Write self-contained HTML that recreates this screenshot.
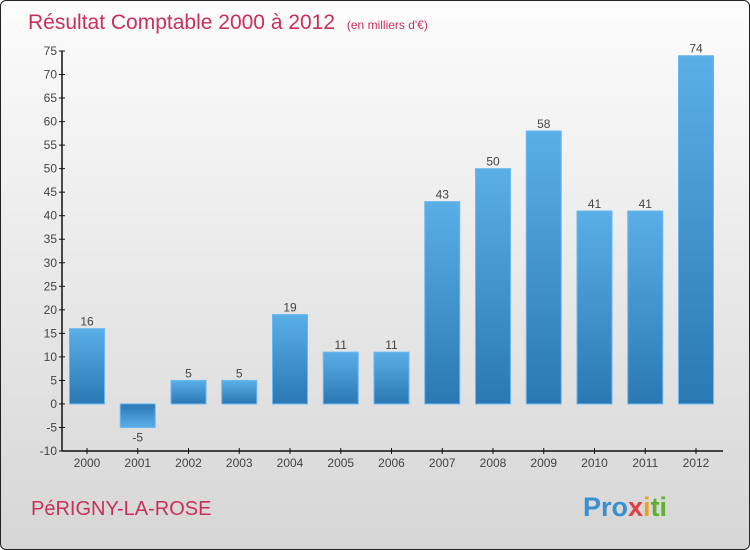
<!DOCTYPE html>
<html><head><meta charset="utf-8"><style>
html,body{margin:0;padding:0}
body{width:750px;height:550px;overflow:hidden;font-family:"Liberation Sans",sans-serif}
#frame{position:absolute;left:0;top:0;width:748px;height:548px;border:1px solid #222;border-radius:6px;background:linear-gradient(#fcfcfc,#d6d6d6);overflow:hidden}
</style></head><body>
<div id="frame">
<svg width="750" height="550">
<defs>
<linearGradient id="gp" x1="0" y1="0" x2="0" y2="1"><stop offset="0" stop-color="#5aafe8"/><stop offset="1" stop-color="#2a78b4"/></linearGradient>
<linearGradient id="gn" x1="0" y1="0" x2="0" y2="1"><stop offset="0" stop-color="#2a78b4"/><stop offset="1" stop-color="#5aafe8"/></linearGradient>
</defs>
<text x="27" y="28" font-size="21" fill="#c8305a">Résultat Comptable 2000 à 2012 <tspan font-size="12" dx="6">(en milliers d'€)</tspan></text>
<g id="axes"></g>
<g id="bars"></g>
<text x="30" y="514" font-size="20" fill="#c8305a">PéRIGNY-LA-ROSE</text>
<text x="582" y="515" font-size="27" font-weight="bold"><tspan fill="#3a8fd0">Pro</tspan><tspan fill="#e04040">x</tspan><tspan fill="#f0a020">i</tspan><tspan fill="#60b030">ti</tspan></text>
</svg>
</div>
<script>
const years=["2000","2001","2002","2003","2004","2005","2006","2007","2008","2009","2010","2011","2012"];
const values=[16,-5,5,5,19,11,11,43,50,58,41,41,74];
const ticks=[-10,-5,0,5,10,15,20,25,30,35,40,45,50,55,60,65,70,75];
const NS="http://www.w3.org/2000/svg";
const x0=61,x1=722,yTop=50,yBot=450,vmin=-10,vmax=75;
const y=v=>yBot-(v-vmin)*(yBot-yTop)/(vmax-vmin);
const step=50.75,first=86;
const xc=i=>first+i*step;
function mk(t,a,p){const e=document.createElementNS(NS,t);for(const k in a)e.setAttribute(k,a[k]);p.appendChild(e);return e;}
const ax=document.getElementById('axes'),bg=document.getElementById('bars');
const ya=mk('line',{x1:x0,y1:yTop,x2:x0,y2:yBot,stroke:'#111','stroke-width':1.5},ax);


const xa=mk('line',{x1:x0,y1:yBot,x2:x1,y2:yBot,stroke:'#111','stroke-width':1.5},ax);


ticks.forEach(t=>{
  mk('line',{x1:x0-3,y1:y(t),x2:x0+3,y2:y(t),stroke:'#111'},ax);
  const tx=mk('text',{x:x0-5,y:y(t)+4,'font-size':12,fill:'#444','text-anchor':'end'},ax);
  tx.textContent=t;
  
  
});
years.forEach((yr,i)=>{
  mk('line',{x1:xc(i),y1:yBot-3,x2:xc(i),y2:yBot+3,stroke:'#111'},ax);
  const tx=mk('text',{x:xc(i),y:yBot+16,'font-size':12,fill:'#444','text-anchor':'middle'},ax);
  tx.textContent=yr;
  
  
  const v=values[i],top=Math.min(y(v),y(0)),h=Math.abs(y(v)-y(0));
  const r=mk('rect',{x:xc(i)-17.5,y:top,width:35,height:h,fill:v>=0?'url(#gp)':'url(#gn)',stroke:'#6ab8ee','stroke-width':1},bg);
  
  
  const lb=mk('text',{x:xc(i),y:v>=0?y(v)-3:y(v)+14,'font-size':12,fill:'#444','text-anchor':'middle'},bg);
  lb.textContent=v;
  
  
});
</script>
</body></html>
